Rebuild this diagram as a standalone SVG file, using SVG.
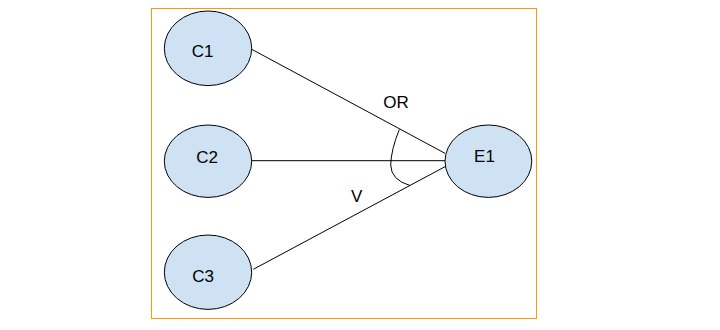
<svg xmlns="http://www.w3.org/2000/svg" width="720" height="330" viewBox="0 0 720 330">
<style>
.node ellipse{fill:#cfe2f3;stroke:#000;stroke-width:1}
text{font-family:"Liberation Sans",Arial,sans-serif;font-size:17px;fill:#000;text-anchor:middle}
.edge{stroke:#000;stroke-width:1;fill:none}
</style>
<rect x="151.5" y="8.5" width="385" height="310" fill="#fff" stroke="#ff9900" stroke-width="1"/>
<g id="connectors">
<line class="edge" x1="251.7" y1="49.3" x2="445" y2="153.3"/>
<line class="edge" x1="252" y1="160.7" x2="445" y2="160.7"/>
<line class="edge" x1="253.3" y1="269.3" x2="445" y2="166.7"/>
<path class="edge" d="M399.3,129.5 Q391,150 390.7,165 Q391,180 410,185.5"/>
<text x="396" y="108.3">OR</text>
<text x="356.7" y="201.7">V</text>
</g>
<g id="C1" class="node"><ellipse cx="208" cy="48.3" rx="43.7" ry="37.3"/><text x="202.5" y="57.3">C1</text></g>
<g id="C2" class="node"><ellipse cx="208" cy="161.2" rx="43.7" ry="36.2"/><text x="207" y="163.3">C2</text></g>
<g id="C3" class="node"><ellipse cx="208" cy="272.2" rx="43.7" ry="37.2"/><text x="203" y="281.7">C3</text></g>
<g id="E1" class="node"><ellipse cx="488.4" cy="161.2" rx="43.4" ry="36.2"/><text x="484.5" y="162">E1</text></g>
</svg>
